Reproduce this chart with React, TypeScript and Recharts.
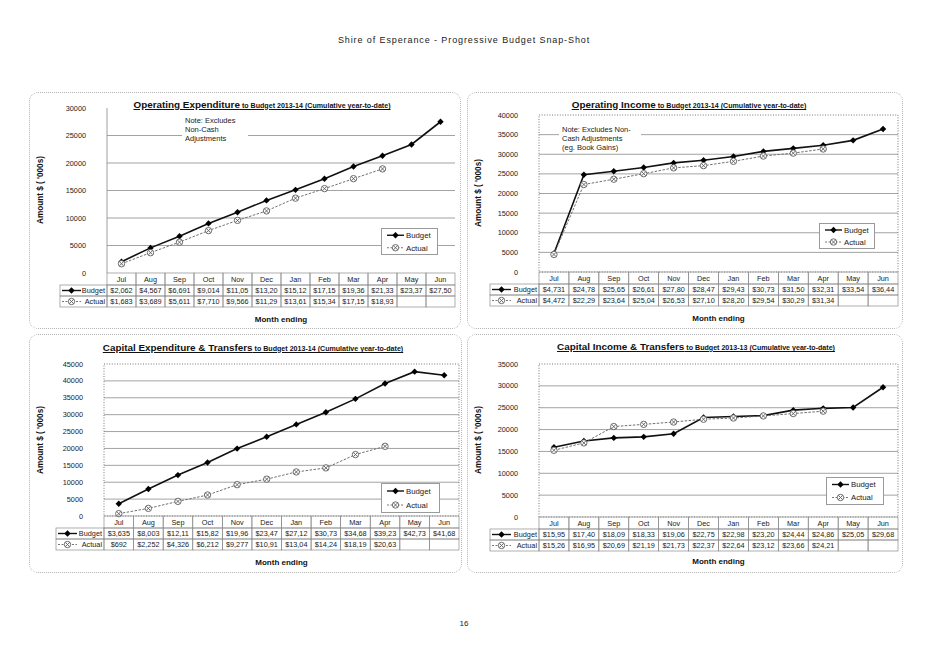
import React from 'react';
import { LineChart, Line, XAxis, YAxis, CartesianGrid, ReferenceArea } from 'recharts';

// ---------------- DATA ----------------
const months = ['Jul', 'Aug', 'Sep', 'Oct', 'Nov', 'Dec', 'Jan', 'Feb', 'Mar', 'Apr', 'May', 'Jun'];

const opExpBudget = [2062, 4567, 6691, 9014, 11050, 13200, 15120, 17150, 19360, 21330, 23370, 27500];
const opExpActual = [1683, 3689, 5611, 7710, 9566, 11290, 13610, 15340, 17150, 18930];
const opExpTicks = [0, 5000, 10000, 15000, 20000, 25000, 30000];

const opIncBudget = [4731, 24780, 25650, 26610, 27800, 28470, 29430, 30730, 31500, 32310, 33540, 36440];
const opIncActual = [4472, 22290, 23640, 25040, 26530, 27100, 28200, 29540, 30290, 31340];
const opIncTicks = [0, 5000, 10000, 15000, 20000, 25000, 30000, 35000, 40000];

const capExpBudget = [3635, 8003, 12110, 15820, 19960, 23470, 27120, 30730, 34680, 39230, 42730, 41680];
const capExpActual = [692, 2252, 4326, 6212, 9277, 10910, 13040, 14240, 18190, 20630];
const capExpTicks = [0, 5000, 10000, 15000, 20000, 25000, 30000, 35000, 40000, 45000];

const capIncBudget = [15950, 17400, 18090, 18330, 19060, 22750, 22980, 23200, 24440, 24860, 25050, 29680];
const capIncActual = [15260, 16950, 20690, 21190, 21730, 22370, 22640, 23120, 23660, 24210];
const capIncTicks = [0, 5000, 10000, 15000, 20000, 25000, 30000, 35000];

const seriesNames = ['Budget', 'Actual'];

// ---------------- STYLE ----------------
const FONT = "'Liberation Sans', Arial, Helvetica, sans-serif";
const GRID = '#8c8c8c';
const ROWS = [12, 11, 11];
const TXT = 7.3;
const INK = '#1a1a1a';

const fmt = (v?: number) => (v == null ? '' : ('$' + v.toLocaleString('en-US')).slice(0, 6));

const BudgetDot = (p: any) => {
  const { cx, cy } = p;
  if (cx == null || cy == null) return <g key={p.index} />;
  const s = 3.2;
  return <path key={p.index} d={`M${cx} ${cy - s}L${cx + s} ${cy}L${cx} ${cy + s}L${cx - s} ${cy}Z`} fill="#000" />;
};

const ActualDot = (p: any) => {
  const { cx, cy } = p;
  if (cx == null || cy == null) return <g key={p.index} />;
  const r = 3.2;
  const d = 2.1;
  return (
    <g key={p.index}>
      <circle cx={cx} cy={cy} r={r} fill="#fff" stroke="#5e5e5e" strokeWidth={0.9} />
      <path d={`M${cx - d} ${cy - d}L${cx + d} ${cy + d}M${cx + d} ${cy - d}L${cx - d} ${cy + d}`} stroke="#5e5e5e" strokeWidth={0.9} />
    </g>
  );
};

const LegendIcon = ({ kind, x, y, w }: { kind: number; x: number; y: number; w: number }) => (
  <g>
    <line x1={x} y1={y} x2={x + w} y2={y} stroke={kind === 0 ? '#111' : '#777'} strokeWidth={kind === 0 ? 1.4 : 1} strokeDasharray={kind === 0 ? undefined : '2 1.5'} />
    {kind === 0 ? <BudgetDot cx={x + w / 2} cy={y} index={0} /> : <ActualDot cx={x + w / 2} cy={y} index={0} />}
  </g>
);

type Cfg = {
  title: string;
  sub: string;
  box: { l: number; t: number; r: number; b: number };
  plot: { l: number; r: number; t: number; b: number };
  legCol: number;
  ticks: number[];
  budget: number[];
  actual: number[];
  dotted: boolean;
  titleX: number;
  titleY: number;
  ylab: { x: number; y: number };
  monthY: number;
  note?: string[];
  noteBox?: { l: number; t: number; w: number; h: number };
  legend: { l: number; t: number; w: number; h: number };
};

const makeTick = (cfg: Cfg) => (props: any) => {
  const { x, y, index, payload } = props;
  const i = index;
  const bw = (cfg.plot.r - cfg.plot.l) / months.length;
  const [h0, h1, h2] = ROWS;
  const x0 = x - bw / 2;
  const legL = cfg.legCol - cfg.box.l;
  const vals = [cfg.budget[i], cfg.actual[i]];
  const rowY = [y + h0, y + h0 + h1];
  const rowH = [h1, h2];
  const t = { fontSize: TXT, fill: INK, fontFamily: FONT };
  return (
    <g>
      <rect x={x0} y={y} width={bw} height={h0} fill="none" stroke={GRID} strokeWidth={0.7} />
      <text x={x} y={y + h0 / 2 + 2.6} textAnchor="middle" {...t}>{payload.value}</text>
      {vals.map((v, k) => (
        <g key={k}>
          <rect x={x0} y={rowY[k]} width={bw} height={rowH[k]} fill="none" stroke={GRID} strokeWidth={0.7} />
          <text x={x} y={rowY[k] + rowH[k] / 2 + 2.6} textAnchor="middle" {...t}>{fmt(v)}</text>
        </g>
      ))}
      {i === 0 &&
        seriesNames.map((n, k) => (
          <g key={'l' + k}>
            <rect x={legL} y={rowY[k]} width={x0 - legL} height={rowH[k]} fill="none" stroke={GRID} strokeWidth={0.7} />
            <LegendIcon kind={k} x={legL + 2} y={rowY[k] + rowH[k] / 2} w={19} />
            <text x={x0 - 2} y={rowY[k] + rowH[k] / 2 + 2.6} textAnchor="end" {...t}>{n}</text>
          </g>
        ))}
    </g>
  );
};

const Panel = ({ cfg }: { cfg: Cfg }) => {
  const W = cfg.box.r - cfg.box.l;
  const H = cfg.box.b - cfg.box.t;
  const data = months.map((m, i) => ({ month: m, budget: cfg.budget[i], actual: cfg.actual[i] ?? null }));
  const max = cfg.ticks[cfg.ticks.length - 1];
  const inner = cfg.ticks.filter((v) => v !== 0 && v !== max);
  const Tick = makeTick(cfg);
  return (
    <>
      <div
        style={{
          position: 'absolute',
          left: cfg.box.l,
          top: cfg.box.t,
          width: W,
          height: H,
          border: '1px dotted #b4b4b4',
          borderRadius: 9,
          boxSizing: 'border-box',
        }}
      />
      <div style={{ position: 'absolute', left: cfg.box.l, top: cfg.box.t }}>
        <LineChart
          width={W}
          height={H}
          data={data}
          margin={{ top: cfg.plot.t - cfg.box.t, right: cfg.box.r - cfg.plot.r, left: 0, bottom: 0 }}
        >
          {cfg.dotted && (
            <ReferenceArea y1={0} y2={max} fill="none" stroke="#555" strokeWidth={0.8} strokeDasharray="1 1.6" />
          )}
          <CartesianGrid vertical={false} horizontalValues={inner} stroke={GRID} strokeWidth={0.8} />
          <XAxis
            dataKey="month"
            scale="band"
            interval={0}
            axisLine={false}
            tickLine={false}
            tickSize={0}
            tickMargin={0}
            height={cfg.box.b - cfg.plot.b}
            tick={<Tick />}
          />
          <YAxis
            domain={[0, max]}
            ticks={cfg.ticks}
            interval={0}
            width={cfg.plot.l - cfg.box.l}
            axisLine={cfg.dotted ? false : { stroke: '#888', strokeWidth: 0.8 }}
            tickLine={false}
            tickSize={0}
            tickMargin={21}
            tick={{ fontSize: TXT, fill: INK, fontFamily: FONT }}
          />
          <Line
            dataKey="budget"
            stroke="#111"
            strokeWidth={1.6}
            dot={(p: any) => <BudgetDot {...p} key={'b' + p.index} />}
            activeDot={false}
            isAnimationActive={false}
          />
          <Line
            dataKey="actual"
            stroke="#707070"
            strokeWidth={1}
            strokeDasharray="2.5 1.5"
            dot={(p: any) => <ActualDot {...p} key={'a' + p.index} />}
            activeDot={false}
            isAnimationActive={false}
          />
        </LineChart>
      </div>
      {/* title */}
      <div
        style={{
          position: 'absolute',
          left: cfg.titleX - 250,
          width: 500,
          top: cfg.titleY - 8,
          textAlign: 'center',
          fontFamily: FONT,
          fontWeight: 'bold',
          lineHeight: '13px',
          whiteSpace: 'nowrap',
          color: '#111',
          textDecoration: 'underline',
        }}
      >
        <span style={{ fontSize: 9.9 }}>{cfg.title}</span>
        <span style={{ fontSize: 7.1 }}>{cfg.sub}</span>
      </div>
      {/* y label */}
      <div
        style={{
          position: 'absolute',
          left: cfg.ylab.x,
          top: cfg.ylab.y,
          transform: 'translate(-50%, -50%) rotate(-90deg)',
          fontFamily: FONT,
          fontWeight: 'bold',
          fontSize: 8.2,
          whiteSpace: 'nowrap',
          color: '#111',
        }}
      >
        Amount $ ( '000s)
      </div>
      {/* x label */}
      <div
        style={{
          position: 'absolute',
          left: (cfg.plot.l + cfg.plot.r) / 2 - 50,
          width: 100,
          top: cfg.monthY - 5,
          textAlign: 'center',
          fontFamily: FONT,
          fontWeight: 'bold',
          fontSize: 8,
          lineHeight: '10px',
          color: '#111',
        }}
      >
        Month ending
      </div>
      {/* note */}
      {cfg.note && cfg.noteBox && (
        <div
          style={{
            position: 'absolute',
            left: cfg.noteBox.l,
            top: cfg.noteBox.t,
            width: cfg.noteBox.w,
            height: cfg.noteBox.h,
            background: '#fff',
            fontFamily: FONT,
            fontSize: 7.5,
            lineHeight: '9px',
            paddingLeft: 3,
            paddingTop: 1,
            boxSizing: 'border-box',
            color: '#222',
            whiteSpace: 'nowrap',
          }}
        >
          {cfg.note.map((n, k) => (
            <div key={k}>{n}</div>
          ))}
        </div>
      )}
      {/* legend */}
      <div
        style={{
          position: 'absolute',
          left: cfg.legend.l,
          top: cfg.legend.t,
          width: cfg.legend.w,
          height: cfg.legend.h,
          background: '#fff',
          border: '1px solid #9a9a9a',
          boxSizing: 'border-box',
        }}
      >
        <svg width={cfg.legend.w - 2} height={cfg.legend.h - 2} style={{ display: 'block' }}>
          {seriesNames.map((n, k) => {
            const cy = ((cfg.legend.h - 2) * (k === 0 ? 1 : 3)) / 4;
            return (
              <g key={n}>
                <LegendIcon kind={k} x={5} y={cy} w={17} />
                <text x={24} y={cy + 2.8} fontSize={7.8} fontFamily={FONT} fill="#222">{n}</text>
              </g>
            );
          })}
        </svg>
      </div>
    </>
  );
};

const panels: Cfg[] = [
  {
    title: 'Operating Expenditure',
    sub: ' to Budget 2013-14 (Cumulative year-to-date)',
    box: { l: 29, t: 92, r: 461, b: 329 },
    plot: { l: 107, r: 455, t: 108, b: 273 },
    legCol: 60,
    ticks: opExpTicks,
    budget: opExpBudget,
    actual: opExpActual,
    dotted: false,
    titleX: 262,
    titleY: 104,
    ylab: { x: 40, y: 190 },
    monthY: 320,
    note: ['Note: Excludes', 'Non-Cash', 'Adjustments'],
    noteBox: { l: 182, t: 115, w: 66, h: 28 },
    legend: { l: 381, t: 228, w: 57, h: 27 },
  },
  {
    title: 'Operating Income',
    sub: ' to Budget 2013-14  (Cumulative year-to-date)',
    box: { l: 467, t: 92, r: 903, b: 329 },
    plot: { l: 539, r: 898, t: 115, b: 272 },
    legCol: 490,
    ticks: opIncTicks,
    budget: opIncBudget,
    actual: opIncActual,
    dotted: true,
    titleX: 689,
    titleY: 104,
    ylab: { x: 478, y: 193 },
    monthY: 319,
    note: ['Note: Excludes Non-', 'Cash Adjustments', '(eg. Book Gains)'],
    noteBox: { l: 559, t: 124, w: 82, h: 28 },
    legend: { l: 819, t: 223, w: 56, h: 26 },
  },
  {
    title: 'Capital Expenditure & Transfers',
    sub: ' to Budget 2013-14  (Cumulative year-to-date)',
    box: { l: 29, t: 334, r: 462, b: 573 },
    plot: { l: 104, r: 459, t: 364, b: 516 },
    legCol: 56,
    ticks: capExpTicks,
    budget: capExpBudget,
    actual: capExpActual,
    dotted: true,
    titleX: 253,
    titleY: 347,
    ylab: { x: 40, y: 440 },
    monthY: 563,
    legend: { l: 381, t: 483, w: 59, h: 30 },
  },
  {
    title: 'Capital Income & Transfers',
    sub: ' to Budget 2013-13 (Cumulative year-to-date)',
    box: { l: 467, t: 334, r: 903, b: 573 },
    plot: { l: 539, r: 898, t: 364, b: 517 },
    legCol: 490,
    ticks: capIncTicks,
    budget: capIncBudget,
    actual: capIncActual,
    dotted: true,
    titleX: 696,
    titleY: 346,
    ylab: { x: 478, y: 440 },
    monthY: 562,
    legend: { l: 826, t: 477, w: 58, h: 28 },
  },
];

export default function App() {
  return (
    <div style={{ position: 'absolute', left: 0, top: 0, width: 928, height: 656, background: '#fff', overflow: 'hidden' }}>
      <div
        style={{
          position: 'absolute',
          left: 0,
          width: 928,
          top: 34,
          textAlign: 'center',
          fontFamily: FONT,
          fontSize: 9,
          letterSpacing: 0.9,
          color: '#222',
          lineHeight: '12px',
        }}
      >
        Shire of Esperance - Progressive Budget Snap-Shot
      </div>
      {panels.map((p, k) => (
        <Panel key={k} cfg={p} />
      ))}
      <div
        style={{
          position: 'absolute',
          left: 0,
          width: 928,
          top: 619,
          textAlign: 'center',
          fontFamily: FONT,
          fontSize: 8,
          color: '#222',
          lineHeight: '10px',
        }}
      >
        16
      </div>
    </div>
  );
}
